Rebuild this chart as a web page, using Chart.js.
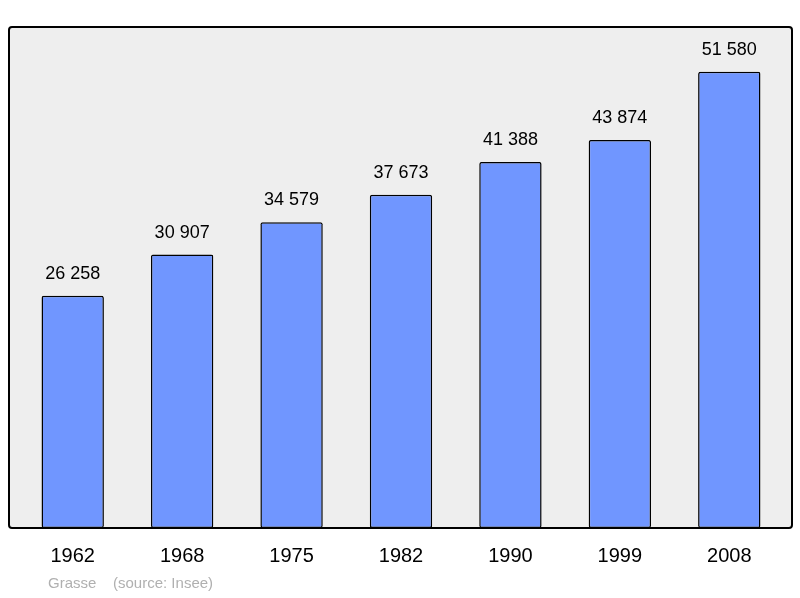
<!DOCTYPE html>
<html><head><meta charset="utf-8">
<script src="https://cdn.jsdelivr.net/npm/chart.js@4"></script>
<style>body{margin:0;background:#fff}#c{display:block}</style>
</head><body>
<div style="width:800px;height:598px"><canvas id="c"></canvas></div>
<script>
const years = ['1962', '1968', '1975', '1982', '1990', '1999', '2008'];
const population = [26258, 30907, 34579, 37673, 41388, 43874, 51580];
const caption = 'Grasse    (source: Insee)';

const fmt = v => String(v).replace(/\B(?=(\d{3})+(?!\d))/g, ' ');

const frame = {
  id: 'frame',
  beforeDraw(chart) {
    const ctx = chart.ctx;
    ctx.save();
    ctx.beginPath();
    ctx.roundRect(9, 27, 783, 501, 3);
    ctx.fillStyle = '#eeeeee';
    ctx.fill();
    ctx.lineWidth = 2;
    ctx.strokeStyle = '#000';
    ctx.stroke();
    ctx.restore();
  },
  afterDatasetsDraw(chart) {
    const ctx = chart.ctx;
    const meta = chart.getDatasetMeta(0);
    const xs = chart.scales.x;
    ctx.save();
    ctx.fillStyle = '#000';
    ctx.textAlign = 'center';
    ctx.textBaseline = 'middle';
    ctx.font = '18px "Liberation Sans", Arial, sans-serif';
    meta.data.forEach((bar, i) => {
      ctx.fillText(fmt(population[i]), bar.x, bar.y - 22);
    });
    ctx.font = '20px "Liberation Sans", Arial, sans-serif';
    years.forEach((y, i) => ctx.fillText(y, xs.getPixelForValue(i), 556));
    ctx.fillStyle = '#b0b0b0';
    ctx.textAlign = 'left';
    ctx.font = '15px "Liberation Sans", Arial, sans-serif';
    ctx.fillText(caption, 48, 584);
    ctx.restore();
  }
};

new Chart(document.getElementById('c'), {
  type: 'bar',
  data: {
    labels: years,
    datasets: [{
      data: population,
      backgroundColor: '#7096ff',
      borderColor: '#000',
      borderWidth: 1.5,
      borderRadius: 2,
      borderSkipped: false,
      barPercentage: 0.57,
      categoryPercentage: 1
    }]
  },
  options: {
    responsive: true,
    maintainAspectRatio: false,
    animation: false,
    layout: { padding: { left: 18, right: 16, top: 27, bottom: 70 } },
    plugins: { legend: { display: false }, tooltip: { enabled: false } },
    scales: {
      x: { display: false },
      y: { display: false, min: 0, max: 56640 }
    }
  },
  plugins: [frame]
});
</script>
</body></html>
